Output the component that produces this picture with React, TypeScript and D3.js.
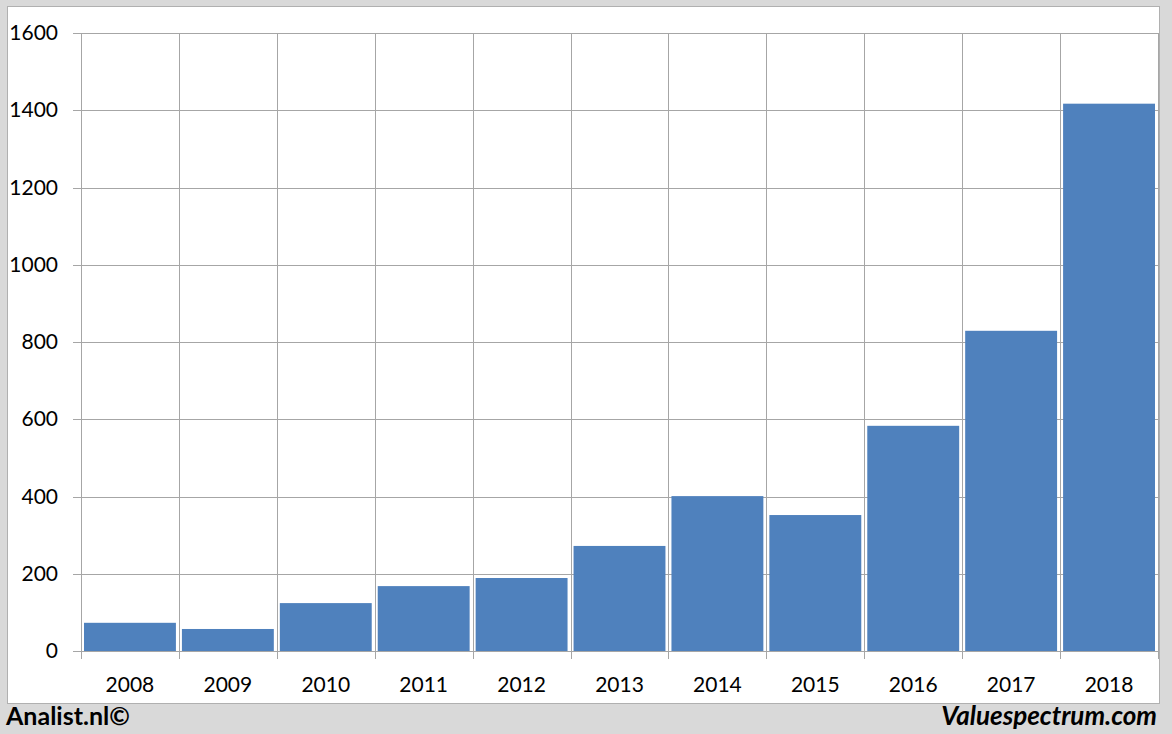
import React from "react";
import * as d3 from "d3";

const years = ["2008", "2009", "2010", "2011", "2012", "2013", "2014", "2015", "2016", "2017", "2018"];
const values = [73, 57, 124, 168, 189, 272, 401, 352, 583, 829, 1417];
const yTicks = [0, 200, 400, 600, 800, 1000, 1200, 1400, 1600];

const W = 1172;
const H = 734;
const left = 81;
const right = 1158;
const top = 33;
const bottom = 651;

export default function App() {
  const xCat = d3.scaleBand<string>().domain(years).range([left, right]);
  const y = d3.scaleLinear().domain([0, 1600]).range([bottom, top]);
  const grid = "#a6a6a6";
  const font = "Lato, 'Open Sans', sans-serif";
  return (
    <div style={{ position: "fixed", left: 0, top: 0 }}>
      <svg width={W} height={H} style={{ display: "block" }}>
        <rect x={0} y={0} width={W} height={H} fill="#d9d9d9" />
        <rect x={7.5} y={6.5} width={1152} height={697} fill="#ffffff" stroke="#b0b0b0" />
        {yTicks.map((t) => (
          <g key={t}>
            <line x1={73} x2={right} y1={Math.round(y(t)) + 0.5} y2={Math.round(y(t)) + 0.5} stroke={grid} />
            <text x={58} y={y(t) + 7} textAnchor="end" fontFamily={font} fontSize={21} fill="#000">
              {t}
            </text>
          </g>
        ))}
        {years.map((yr) => (
          <line key={"v" + yr} x1={Math.round(xCat(yr)!) + 0.5} x2={Math.round(xCat(yr)!) + 0.5} y1={top} y2={659} stroke={grid} />
        ))}
        <line x1={right + 0.5} x2={right + 0.5} y1={top} y2={659} stroke={grid} />
        {years.map((yr, i) => {
          const bx = xCat(yr)! + 3;
          const bw = xCat.bandwidth() - 6;
          return (
            <rect key={"b" + yr} x={bx} y={y(values[i])} width={bw} height={y(0) - y(values[i])} fill="#4f81bd" />
          );
        })}
        {years.map((yr) => (
          <text key={"t" + yr} x={xCat(yr)! + xCat.bandwidth() / 2} y={692} textAnchor="middle" fontFamily={font} fontSize={21} fill="#000">
            {yr}
          </text>
        ))}
        <text x={6} y={725} fontFamily={font} fontSize={25} fontWeight="bold" fill="#000">
          Analist.nl©
        </text>
        <text x={1157} y={725} textAnchor="end" fontFamily={font} fontSize={26} fontWeight="bold" fontStyle="italic" fill="#000">
          Valuespectrum.com
        </text>
      </svg>
    </div>
  );
}
